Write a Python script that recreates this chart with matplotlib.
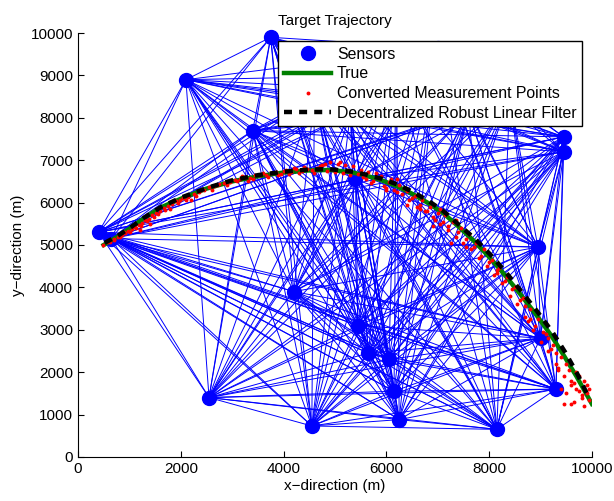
import itertools
import matplotlib
matplotlib.use("Agg")
import matplotlib.pyplot as plt

plt.rcParams["font.family"] = ["Liberation Sans", "DejaVu Sans"]

# sensor positions (m); the last six sit behind the legend box
SENSOR_X = [3750, 2100, 3400, 400, 650, 9450, 9450, 5400, 8950, 4200,
            5450, 5650, 6050, 9000, 6150, 9300, 2550, 4550, 6250, 8150,
            5300, 7000, 8400, 6200, 4600, 7600]
SENSOR_Y = [9900, 8900, 7700, 5300, 5150, 7550, 7200, 6550, 4950, 3900,
            3100, 2450, 2300, 2800, 1550, 1600, 1400, 730, 880, 650,
            8100, 9650, 8500, 9000, 8500, 8150]

# true target path
TRUE_X = [500, 750, 1000, 1250, 1600, 2000, 2500, 3000, 3500, 4000, 4500, 4900,
          5300, 5600, 5900, 6200, 6500, 6800, 7100, 7400, 7700, 8000, 8300,
          8600, 8900, 9200, 9450, 9700, 10000]
TRUE_Y = [5000, 5180, 5380, 5600, 5880, 6090, 6330, 6500, 6620, 6710, 6760, 6770,
          6720, 6640, 6530, 6390, 6210, 6000, 5760, 5440, 5100, 4720, 4300,
          3850, 3380, 2880, 2400, 1900, 1250]

# decentralized robust linear filter estimate
EST_X = [520, 780, 1030, 1280, 1620, 2010, 2520, 3010, 3510, 4010, 4490, 4880,
         5290, 5610, 5920, 6230, 6520, 6820, 7110, 7410, 7720, 8020, 8330,
         8630, 8930, 9230, 9480, 9720, 9940]
EST_Y = [5050, 5220, 5420, 5640, 5900, 6120, 6350, 6530, 6650, 6730, 6780, 6790,
         6740, 6660, 6560, 6420, 6250, 6040, 5800, 5480, 5150, 4780, 4350,
         3900, 3440, 2950, 2470, 1950, 1400]

# converted measurement points
MEAS_X = [480, 560, 620, 700, 780, 850, 920, 980, 1050, 1120, 1180, 1250, 1300,
          1380, 1450, 1520, 1600, 1680, 1750, 1830, 1900, 1980, 2050, 2150, 2250,
          2350, 2450, 2550, 2650, 2750, 2850, 2950, 3050, 3150, 3250, 3350, 3450,
          3550, 3650, 3750, 3850, 3950, 4050, 4150, 4250, 4350, 4450, 4550, 4650,
          4750, 4850, 4950, 5050, 5150, 5250, 5350, 5450, 5550, 5650, 5750, 5850,
          5950, 6050, 6150, 6250, 6300, 6400, 6450, 6550, 6600, 6700, 6750, 6850,
          6900, 7000, 7050, 7150, 7200, 7300, 7350, 7450, 7500, 7600, 7650, 7750,
          7800, 7900, 7950, 8050, 8100, 8200, 8250, 8350, 8400, 8500, 8550, 8650,
          8700, 8800, 8850, 8950, 9000, 9100, 9150, 9250, 9300, 9400, 9450, 9550,
          9500, 9600, 9650, 9750, 9800, 9850, 9900, 9700, 9400, 9850, 9600,
          5100, 5800, 6200, 6400, 6900, 7250, 1200, 1400, 2200, 3300, 4400, 4800,
          6650, 7550, 8150, 8750, 9350, 9950, 6000, 7100,
          600, 700, 820, 900, 1020, 1100, 1220, 1350, 1480, 1560,
          1700, 1800, 1950, 2100, 2300, 2400, 2600, 2700, 2900, 3100,
          3200, 3400, 3600, 3700, 3900, 4000, 4100, 4200, 4300, 4600,
          4700, 4900, 5000, 5200, 5300, 5500, 5600, 5700, 5900, 6000,
          6100, 6200, 6350, 6500, 6650, 6800, 6950, 7050, 7200, 7350,
          7400, 7550, 7700, 7850, 8000, 8150, 8300, 8450, 8600, 8700,
          8800, 8900, 9050, 9150, 9200, 9300, 9350, 9500, 9600, 9700,
          9750, 9900, 9950, 9450, 9650, 9800]
MEAS_Y = [5010, 5060, 5080, 5150, 5190, 5230, 5280, 5330, 5380, 5400, 5470, 5520, 5600,
          5620, 5700, 5760, 5800, 5870, 5920, 5960, 6040, 6050, 6100, 6130, 6200,
          6250, 6290, 6360, 6380, 6440, 6470, 6480, 6540, 6560, 6600, 6590, 6640,
          6660, 6650, 6700, 6720, 6680, 6760, 6720, 6790, 6740, 6800, 6760, 6820,
          6880, 6740, 6800, 6920, 6700, 6780, 6860, 6680, 6600, 6720, 6500, 6580,
          6400, 6480, 6300, 6420, 6200, 6280, 6050, 6150, 5900, 6050, 5800, 5900,
          5650, 5750, 5500, 5700, 5350, 5550, 5200, 5400, 5050, 5250, 4900, 5050,
          4700, 4900, 4500, 4650, 4300, 4450, 4100, 4250, 3800, 4000, 3600, 3750,
          3300, 3500, 3000, 3250, 2700, 2900, 2500, 2650, 2200, 2350, 1900, 2050,
          1500, 1700, 1300, 1550, 1400, 1800, 1500, 2000, 1600, 1200, 1250,
          6950, 6700, 6550, 5950, 5450, 5050, 5350, 5500, 6050, 6500, 6850, 6900,
          5850, 4950, 4400, 3200, 2050, 1600, 6300, 5550,
          5100, 5120, 5200, 5300, 5300, 5430, 5450, 5560, 5650, 5720,
          5830, 5850, 5980, 6050, 6150, 6300, 6300, 6420, 6420, 6500,
          6620, 6560, 6700, 6610, 6650, 6750, 6680, 6820, 6700, 6700,
          6860, 6950, 6720, 6880, 6640, 6780, 6560, 6470, 6620, 6350,
          6550, 6250, 6350, 6100, 5950, 5800, 5600, 5850, 5450, 5600,
          5300, 5150, 4950, 4750, 4600, 4350, 4150, 3950, 3700, 3550,
          3250, 3100, 2950, 2800, 2550, 2450, 2100, 2200, 1800, 1600,
          1900, 1700, 1350, 1250, 1750, 1450]

fig = plt.figure(figsize=(6.14, 5.01), dpi=100)
ax = fig.add_axes([0.127, 0.088, 0.837, 0.846])

# communication links: every pair of sensors
for i, j in itertools.combinations(range(len(SENSOR_X)), 2):
    ax.plot([SENSOR_X[i], SENSOR_X[j]], [SENSOR_Y[i], SENSOR_Y[j]],
            color="#0000ff", linewidth=0.7, zorder=1)

ax.plot(SENSOR_X, SENSOR_Y, "o", color="#0000ff", markersize=10,
        linestyle="none", label="Sensors", zorder=2, clip_on=False)
ax.plot(TRUE_X, TRUE_Y, color="#008000", linewidth=3.2, label="True", zorder=3)
ax.plot(MEAS_X, MEAS_Y, "o", color="#ff0000", markersize=2.8, markeredgewidth=0,
        linestyle="none", label="Converted Measurement Points", zorder=4)
ax.plot(EST_X, EST_Y, color="black", linewidth=3.2, dashes=(1.8, 1.6),
        label="Decentralized Robust Linear Filter", zorder=5)

ax.set_xlim(0, 10000)
ax.set_ylim(0, 10000)
ax.set_xticks(range(0, 10001, 2000))
ax.set_yticks(range(0, 10001, 1000))
ax.tick_params(direction="in", length=4, labelsize=11, width=0.8)
for s in ("top", "right"):
    ax.spines[s].set_visible(False)
ax.set_xlabel("x\u2212direction (m)", fontsize=11, labelpad=2)
ax.set_ylabel("y\u2212direction (m)", fontsize=11, labelpad=4)
ax.set_title("Target Trajectory", fontsize=11, pad=6)

leg = ax.legend(loc="upper right", bbox_to_anchor=(0.981, 0.981), borderaxespad=0,
                fontsize=11.4, fancybox=False, framealpha=1, edgecolor="black",
                handlelength=3.0, handletextpad=0.35, labelspacing=0.3,
                borderpad=0.35, numpoints=1)
leg.get_frame().set_linewidth(1.0)
leg.set_zorder(10)

fig.savefig("out.png", dpi=100)
